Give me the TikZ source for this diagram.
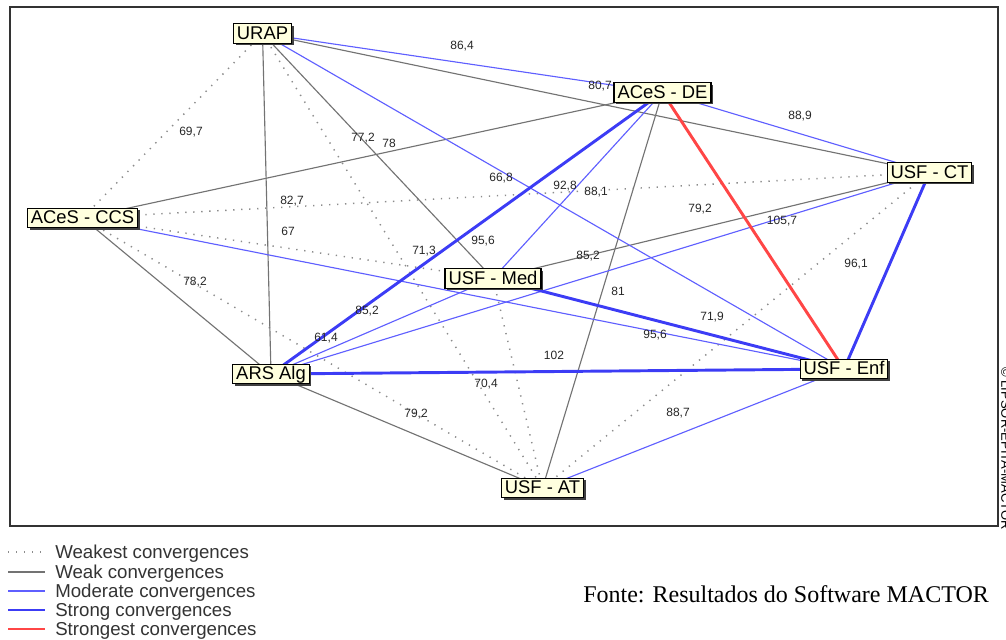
\documentclass[tikz,border=0pt]{standalone}
\usepackage{fontspec}
\setmainfont{Liberation Sans}
\newfontfamily\fontefont{Liberation Serif}
\usetikzlibrary{shadows,backgrounds}

\definecolor{boxyellow}{RGB}{255,255,222}
\definecolor{weakgray}{RGB}{115,115,115}
\definecolor{dotgray}{RGB}{140,140,140}
\definecolor{modblue}{RGB}{95,95,255}
\definecolor{strongblue}{RGB}{60,60,245}
\definecolor{topred}{RGB}{255,70,70}

\tikzset{
	actor/.style = {draw = black, line width = 0.9pt, fill = boxyellow,
		drop shadow = {shadow xshift = 1.6pt, shadow yshift = -1.6pt, fill = black!75, opacity = 1},
		font = \fontsize{13.8}{14}\selectfont, inner xsep = 2.6pt, inner ysep = 1pt,
		text height = 10.6pt, text depth = 1.9pt},
	weakest/.style = {dotgray, line width = 1.1pt, dash pattern = on 1pt off 5pt},
	weak/.style = {weakgray, line width = 0.85pt},
	moderate/.style = {modblue, line width = 0.85pt},
	strong/.style = {strongblue, line width = 2.2pt},
	strongest/.style = {topred, line width = 2.2pt},
	val/.style = {font = \fontsize{9}{10}\selectfont, text = black!85, inner sep = 0pt},
	legend/.style = {font = \fontsize{14}{16}\selectfont, text = black!80, inner sep = 0pt, anchor = base west}
}

\begin{document}
\begin{tikzpicture}[x = 0.75pt, y = -0.75pt]
	\useasboundingbox (0, 0) rectangle (1006, 639);
	\draw[line width = 1.1pt, black!80] (10, 7) rectangle (998, 526);
	
	\node[actor] (urap) at (262.5, 33.5) {URAP};
	\node[actor] (acesde) at (662.5, 92.5) {ACeS - DE};
	\node[actor] (usfct) at (929.5, 172.5) {USF - CT};
	\node[actor] (acesccs) at (82.5, 218) {ACeS - CCS};
	\node[actor] (usfmed) at (493, 278.5) {USF - Med};
	\node[actor] (arsalg) at (271, 374) {ARS Alg};
	\node[actor] (usfenf) at (844, 369) {USF - Enf};
	\node[actor] (usfat) at (542.5, 488) {USF - AT};
	
	\begin{pgfonlayer}{background}
	\foreach \a/\b in {urap/acesccs, urap/usfat, usfct/acesccs, usfct/usfat, acesccs/usfmed, acesccs/usfat, usfmed/usfat}
	\draw[weakest] (\a.center) -- (\b.center);
	\foreach \a/\b in {urap/usfct, urap/arsalg, urap/usfmed, acesde/acesccs, acesde/usfat, usfct/usfmed, acesccs/arsalg, arsalg/usfat}
	\draw[weak] (\a.center) -- (\b.center);
	\foreach \a/\b in {urap/acesde, urap/usfenf, acesde/usfct, acesde/usfmed, arsalg/usfmed, arsalg/usfct, acesccs/usfenf, usfenf/usfat}
	\draw[moderate] (\a.center) -- (\b.center);
	\foreach \a/\b in {acesde/arsalg, usfct/usfenf, usfmed/usfenf, arsalg/usfenf}
	\draw[strong] (\a.center) -- (\b.center);
	\draw[strongest] (acesde.center) -- (usfenf.center);
	\end{pgfonlayer}
	
	\foreach \x/\y/\v [count = \i] in {462/46/{86,4}, 600/86/{80,7}, 800/116/{88,9}, 191/132/{69,7}, 363/138/{77,2}, 389/143/78, 501/178/{66,8}, 565/186/{92,8}, 596/192/{88,1}, 292/201/{82,7}, 700/209/{79,2}, 782/221/{105,7}, 288/231/67, 424/251/{71,3}, 483/241/{95,6}, 588/256/{85,2}, 856/264/{96,1}, 195/282/{78,2}, 618/291/81, 367/311/{85,2}, 712/317/{71,9}, 326/338/{61,4}, 655/335/{95,6}, 554/355/102, 486/384/{70,4}, 416/414/{79,2}, 678/413/{88,7}}
	\node[val] (val\i) at (\x, \y) {\v};
	
	\node[rotate = -90, anchor = south west, inner sep = 0pt, font = \fontsize{9.8}{10}\selectfont] (copyr) at (1001, 367) {© LIPSOR-EPITA-MACTOR};
	
	\foreach \s/\y/\t in {weakest/552/Weakest convergences, weak/572/Weak convergences, moderate/591/Moderate convergences, strong/610/Strong convergences, strongest/629/Strongest convergences} {
	\draw[\s] (8, \y) -- (45, \y);
	\node[legend] (leg\s) at (55, \y + 6.5) {\t};
	}
	
	\node[anchor = base west, inner sep = 0pt, font = \fontefont\fontsize{18}{20}\selectfont] (fonte) at (583, 602) {Fonte: Resultados do Software MACTOR};
\end{tikzpicture}
\end{document}
